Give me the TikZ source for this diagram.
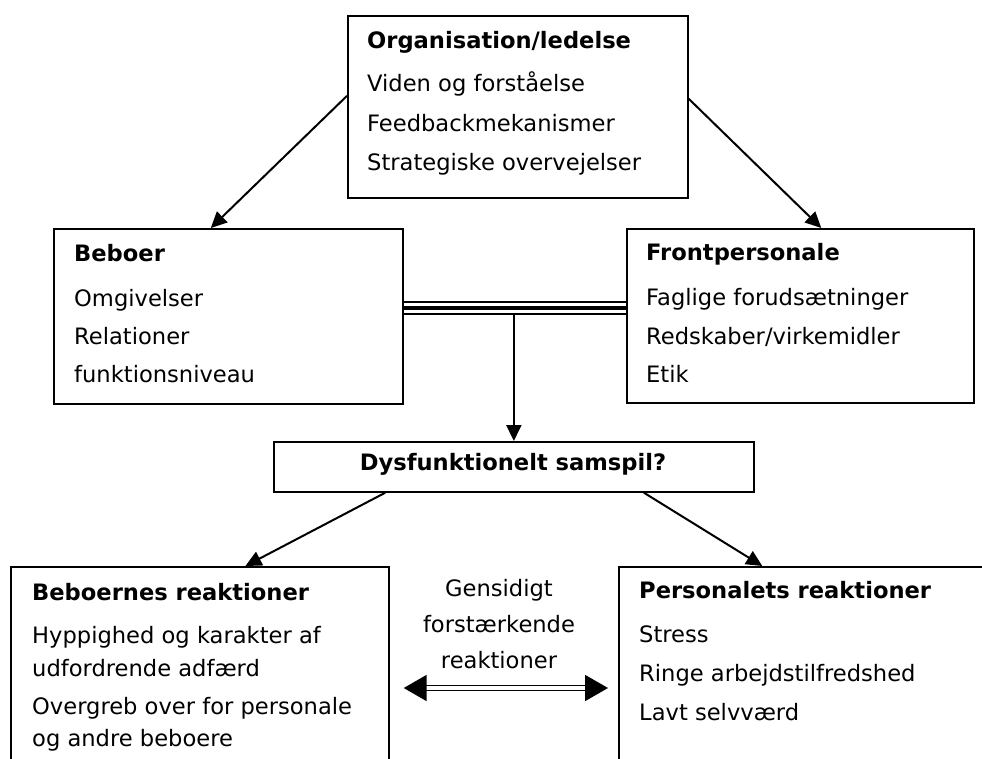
\documentclass[tikz,border=0pt]{standalone}
\usepackage{fontspec}
\setmainfont{DejaVu Sans}
\usetikzlibrary{arrows.meta,calc}
\begin{document}
\begin{tikzpicture}[x=1pt,y=-1pt,
  box/.style={draw, line width=1.7pt, rectangle, inner sep=0pt, anchor=north west},
  txt/.style={anchor=base west, inner sep=0pt, font=\fontsize{22.6}{26}\selectfont},
  ttl/.style={anchor=base west, inner sep=0pt, font=\fontsize{22.6}{26}\selectfont\bfseries},
  ctxt/.style={anchor=base, inner sep=0pt, font=\fontsize{22.6}{26}\selectfont},
  arr/.style={line width=2pt, -{Triangle[length=16pt,width=15pt]}},
  darr/.style={line width=1.8pt, double distance=3.2pt, {Triangle[length=23pt,width=26pt]}-{Triangle[length=23pt,width=26pt]}},
]
\useasboundingbox (0,0) rectangle (982,758);
\clip (0,0) rectangle (982,758);

% boxes
\node[box, minimum width=340pt, minimum height=182pt] (org) at (347,15) {};
\node[box, minimum width=349pt, minimum height=175pt] (beb) at (53,228) {};
\node[box, minimum width=347pt, minimum height=174pt] (front) at (626,228) {};
\node[box, minimum width=480pt, minimum height=50pt] (dysf) at (273,441) {};
\node[box, minimum width=378pt, minimum height=230pt] (bobr) at (10,566) {};
\node[box, minimum width=378pt, minimum height=230pt] (pers) at (618,566) {};

% organisation text
\node[ttl] (o1) at (367,48) {Organisation/ledelse};
\node[txt] (o2) at (367,91) {Viden og forståelse};
\node[txt] (o3) at (367,131) {Feedbackmekanismer};
\node[txt] (o4) at (367,170) {Strategiske overvejelser};

% beboer text
\node[ttl] (b1) at (74,261) {Beboer};
\node[txt] (b2) at (74,306) {Omgivelser};
\node[txt] (b3) at (74,344) {Relationer};
\node[txt] (b4) at (74,382) {funktionsniveau};

% frontpersonale text
\node[ttl] (f1) at (646,260) {Frontpersonale};
\node[txt] (f2) at (646,305) {Faglige forudsætninger};
\node[txt] (f3) at (646,344) {Redskaber/virkemidler};
\node[txt] (f4) at (646,382) {Etik};

% dysfunktionelt
\node[anchor=base, inner sep=0pt, font=\fontsize{22.6}{26}\selectfont\bfseries] (d1) at (513,470) {Dysfunktionelt samspil?};

% beboernes reaktioner
\node[ttl] (r1) at (32,600) {Beboernes reaktioner};
\node[txt] (r2) at (32,643) {Hyppighed og karakter af};
\node[txt] (r3) at (32,676) {udfordrende adfærd};
\node[txt] (r4) at (32,714) {Overgreb over for personale};
\node[txt] (r5) at (32,746) {og andre beboere};

% personalets reaktioner
\node[ttl] (p1) at (639,598) {Personalets reaktioner};
\node[txt] (p2) at (639,642) {Stress};
\node[txt] (p3) at (639,681) {Ringe arbejdstilfredshed};
\node[txt] (p4) at (639,720) {Lavt selvværd};

% middle text
\node[ctxt] (g1) at (499,596) {Gensidigt};
\node[ctxt] (g2) at (499,632) {forstærkende};
\node[ctxt] (g3) at (499,668) {reaktioner};

% connectors
\draw[arr] ($(org.north west)!0.44!(org.south west)$) -- ($(beb.north west)!0.45!(beb.north east)$);
\draw[arr] ($(org.north east)!0.456!(org.south east)$) -- ($(front.north west)!0.56!(front.north east)$);

\draw[line width=1.8pt] ($(beb.north east)+(0,74)$) -- ($(front.north west)+(0,74)$);
\draw[line width=4.5pt] ($(beb.north east)+(0,80)$) -- ($(front.north west)+(0,80)$);
\draw[line width=2.2pt] ($(beb.north east)+(0,86)$) -- ($(front.north west)+(0,86)$);

\coordinate (tmid) at (513,314);
\draw[arr] (dysf.north |- tmid) -- (dysf.north);

\draw[arr] ($(dysf.south west)!0.233!(dysf.south east)$) -- ($(bobr.north west)!0.62!(bobr.north east)$);
\draw[arr] ($(dysf.south west)!0.77!(dysf.south east)$) -- ($(pers.north west)!0.38!(pers.north east)$);

\draw[darr] ($(bobr.north east)+(14,122)$) -- ($(pers.north west)+(-10,122)$);
\end{tikzpicture}
\end{document}
